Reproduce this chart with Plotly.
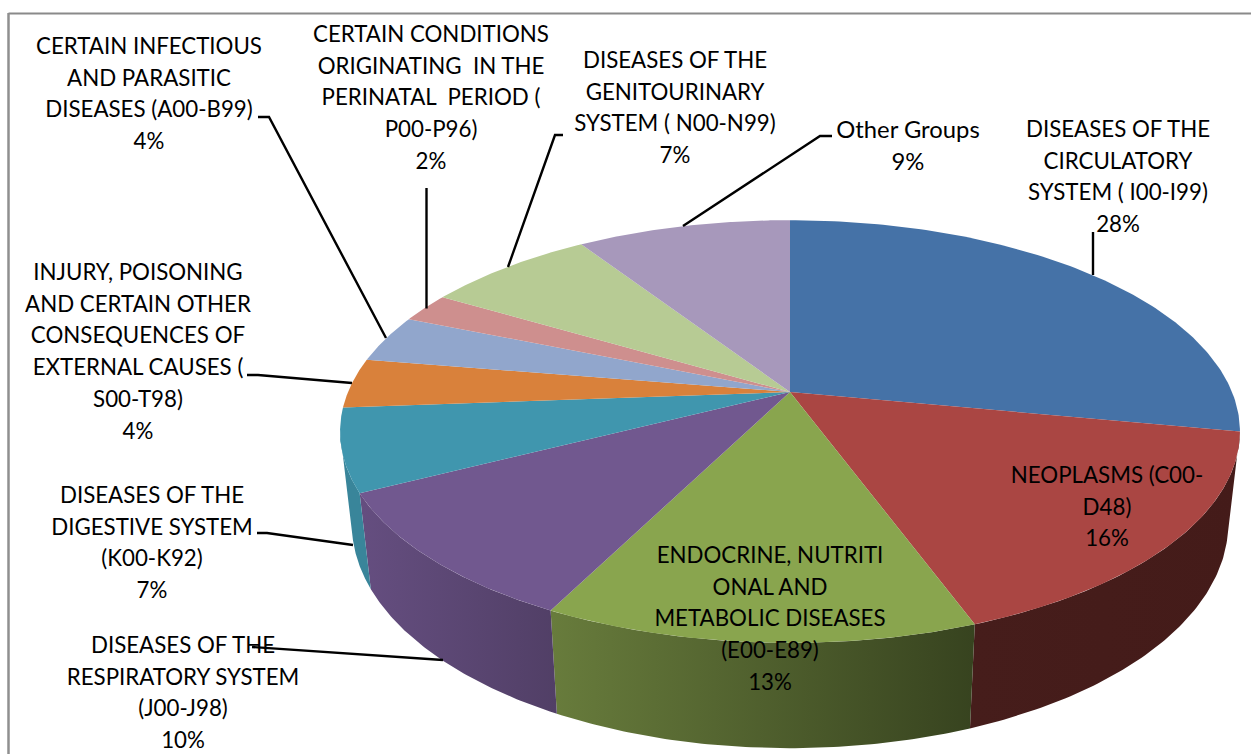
import numpy as np
import plotly.graph_objects as go

# ---- data -------------------------------------------------------------
categories = [
    ["DISEASES OF THE", "CIRCULATORY", "SYSTEM ( I00-I99)"],
    ["NEOPLASMS (C00-", "D48)"],
    ["ENDOCRINE, NUTRITI", "ONAL AND", "METABOLIC DISEASES", "(E00-E89)"],
    ["DISEASES OF THE", "RESPIRATORY SYSTEM", "(J00-J98)"],
    ["DISEASES OF THE", "DIGESTIVE SYSTEM", "(K00-K92)"],
    ["INJURY, POISONING", "AND CERTAIN OTHER", "CONSEQUENCES OF", "EXTERNAL CAUSES (", "S00-T98)"],
    ["CERTAIN INFECTIOUS", "AND PARASITIC", "DISEASES (A00-B99)"],
    ["CERTAIN CONDITIONS", "ORIGINATING  IN THE", "PERINATAL  PERIOD (", "P00-P96)"],
    ["DISEASES OF THE", "GENITOURINARY", "SYSTEM ( N00-N99)"],
    ["Other Groups"],
]
percent_labels = ["28%", "16%", "13%", "10%", "7%", "4%", "4%", "2%", "7%", "9%"]
slice_values = [28.0, 16.4, 13.05, 10.05, 6.3, 3.8, 3.65, 2.25, 7.3, 9.2]

# ---- style / layout ----------------------------------------------------
top_colors = ["#4572A7", "#AA4643", "#89A54E", "#71588F", "#4096AE",
              "#D9813B", "#91A6CC", "#CE8F8E", "#B7CB94", "#A798BB"]
wall_colors = {
    1: ("#461D1B", "#441B19"),
    2: ("#687C3C", "#37431F"),
    3: ("#654E80", "#513F66"),
    4: ("#39859A", "#39859A"),
}
label_x = [1118, 1107, 770, 183, 152, 138, 149, 431, 675, 908]
label_y0 = [131.5, 477.5, 557.5, 647.5, 497.5, 274.5, 48.5, 36.5, 62.5, 132.5]
LINE_STEP = 31.7
FONT_SIZES = [22.3, 22.3, 22.3, 22.3, 22.3, 22.3, 22.3, 22.3, 22.3, 23.8]
leaders = [
    [(1093, 275), (1093, 232)],
    [(683, 226), (820, 136), (832, 136)],
    [(508, 267), (555, 135), (563, 135)],
    [(426.5, 308.5), (426.5, 188)],
    [(386, 338), (269, 117), (258, 117)],
    [(352, 383), (258, 375), (247, 375)],
    [(353, 545), (267, 533), (257, 533)],
    [(443, 660), (268, 648), (252, 647)],
]

# projection of the tilted disc
CX, CY = 790, 392
A, B, K = 204.0, 442.0, 0.187
WALL_DY, WALL_SY, WALL_SX = 89.6, 1.0625, 0.974
BOTTOM_VIS = np.radians([105, 255])   # part of the lower rim on the silhouette
TOP_VIS = np.radians([100.8, 259.2])  # part of the upper rim on the silhouette


def rim(theta):
    X, Y = np.sin(theta), np.cos(theta)
    d = 1 + K * Y
    return B * X / d, A * Y / d


def top_xy(theta):
    x, y = rim(theta)
    return CX + x, CY - y


def bottom_xy(theta):
    x, y = rim(theta)
    return CX + WALL_SX * x, CY + WALL_DY - WALL_SY * y


fig = go.Figure()

cum = np.concatenate([[0], np.cumsum(slice_values)]) / sum(slice_values) * 2 * np.pi

# walls
for i, (c0, c1) in wall_colors.items():
    tt_ = np.linspace(max(cum[i], TOP_VIS[0]), min(cum[i + 1], TOP_VIS[1]), 80)
    tb_ = np.linspace(max(cum[i], BOTTOM_VIS[0]), min(cum[i + 1], BOTTOM_VIS[1]), 80)
    xt, yt = top_xy(tt_)
    xb, yb = bottom_xy(tb_)
    xs = np.concatenate([xt, xb[::-1], xt[:1]])
    ys = np.concatenate([yt, yb[::-1], yt[:1]])
    fig.add_trace(go.Scatter(
        x=xs, y=ys, mode="lines", line=dict(width=0), fill="toself",
        fillgradient=dict(type="horizontal", start=xs.min(), stop=xs.max(),
                          colorscale=[[0, c0], [1, c1]]),
        hoverinfo="skip", showlegend=False))

# top faces
for i, col in enumerate(top_colors):
    t = np.linspace(cum[i], cum[i + 1], 120)
    xt, yt = top_xy(t)
    fig.add_trace(go.Scatter(
        x=np.concatenate([[CX], xt, [CX]]), y=np.concatenate([[CY], yt, [CY]]),
        mode="lines", line=dict(width=0), fill="toself", fillcolor=col,
        hoverinfo="skip", showlegend=False))

# leader lines
for pts in leaders:
    fig.add_trace(go.Scatter(
        x=[p[0] for p in pts], y=[p[1] for p in pts], mode="lines",
        line=dict(color="#000000", width=2.4), hoverinfo="skip", showlegend=False))

# text
tx, ty, tt, ts = [], [], [], []
for i, lines in enumerate(categories):
    for j, s in enumerate(lines + [percent_labels[i]]):
        tx.append(label_x[i])
        ty.append(label_y0[i] + j * LINE_STEP)
        tt.append(s)
        ts.append(FONT_SIZES[i])
fig.add_trace(go.Scatter(x=tx, y=ty, text=tt, mode="text", textposition="middle center",
                         textfont=dict(family="Lato", size=ts, color="#000000"),
                         hoverinfo="skip", showlegend=False))

# frame
fig.add_shape(type="line", x0=8.5, y0=13.5, x1=1251, y1=13.5, line=dict(color="#8A8A8A", width=2))
fig.add_shape(type="line", x0=8.5, y0=13, x1=8.5, y1=754, line=dict(color="#8F8F8F", width=2.5))

fig.update_layout(
    width=1251, height=754, autosize=False,
    margin=dict(l=0, r=0, t=0, b=0),
    paper_bgcolor="#FFFFFF", plot_bgcolor="#FFFFFF",
    xaxis=dict(range=[0, 1251], visible=False, fixedrange=True),
    yaxis=dict(range=[754, 0], visible=False, fixedrange=True),
)
fig.write_html("out.html", post_script="document.body.style.margin='0';",
               config=dict(displayModeBar=False))
